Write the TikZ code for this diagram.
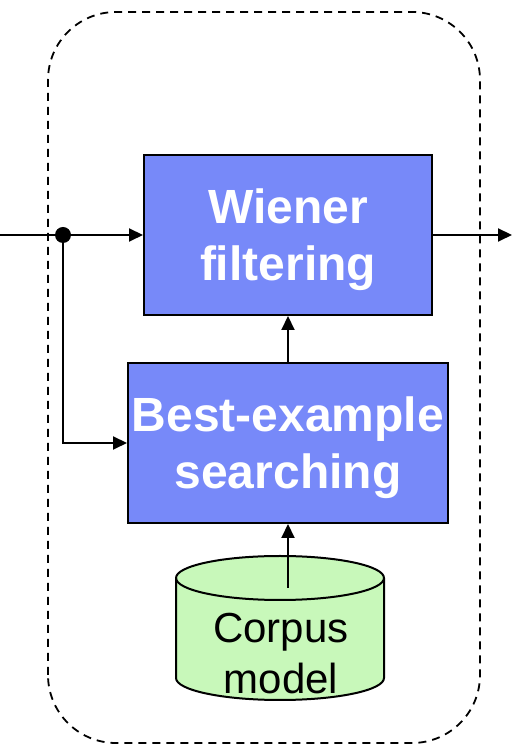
\documentclass[tikz,border=0pt]{standalone}
\usepackage{fontspec}
\setmainfont{Liberation Sans}
\usetikzlibrary{arrows.meta}
\definecolor{blockblue}{RGB}{119,137,249}
\definecolor{corpusgreen}{RGB}{200,248,186}
\newcommand{\toplift}{\rule{0pt}{45pt}}
\tikzset{
  block/.style={draw=black, line width=2pt, fill=blockblue, text=white,
    font=\fontsize{48}{57}\selectfont\bfseries, align=center, inner sep=0pt},
  link/.style={line width=2pt, -{Triangle[length=14pt,width=13pt]}},
  plain/.style={line width=2pt},
}
\begin{document}
\begin{tikzpicture}[x=1pt,y=1pt]
  \useasboundingbox (0,0) rectangle (512,746);
  % dashed frame around the enhancement stage
  \draw[line width=1.8pt, dash pattern=on 8pt off 6pt, rounded corners=68pt]
    (48,3) rectangle (480,734);

  % processing blocks
  \node[block, minimum width=288pt, minimum height=160pt] (wiener) at (288,511) {\toplift Wiener\\filtering};
  \node[block, minimum width=320pt, minimum height=160pt] (best) at (288,303) {\toplift Best-example\\searching};

  % corpus model drawn as a cylinder
  \draw[line width=2pt, fill=corpusgreen]
    (176,168) -- (176,68) arc[start angle=180, end angle=360, x radius=104, y radius=22]
    -- (384,168) arc[start angle=0, end angle=180, x radius=104, y radius=22] -- cycle;
  \draw[line width=2pt] (176,168) arc[start angle=180, end angle=360, x radius=104, y radius=22];
  \node[font=\fontsize{42}{51}\selectfont, align=center, inner sep=0pt] (corpus) at (281,92) {Corpus\\model};
  \coordinate (corpusout) at (288,158);

  % signal path
  \coordinate (in) at (0,511);
  \coordinate (out) at (512,511);
  \coordinate (split) at (63,511);
  \coordinate (turn) at (63,303);
  \draw[plain] (in) -- (split);
  \draw[link] (split) -- (wiener.west);
  \draw[link] (wiener.east) -- (out);
  \draw[link] (split) -- (turn) -- (best.west);
  \draw[link] (best.north) -- (wiener.south);
  \draw[link] (corpusout) -- (best.south);
  \fill (split) circle[radius=8pt];
\end{tikzpicture}
\end{document}
